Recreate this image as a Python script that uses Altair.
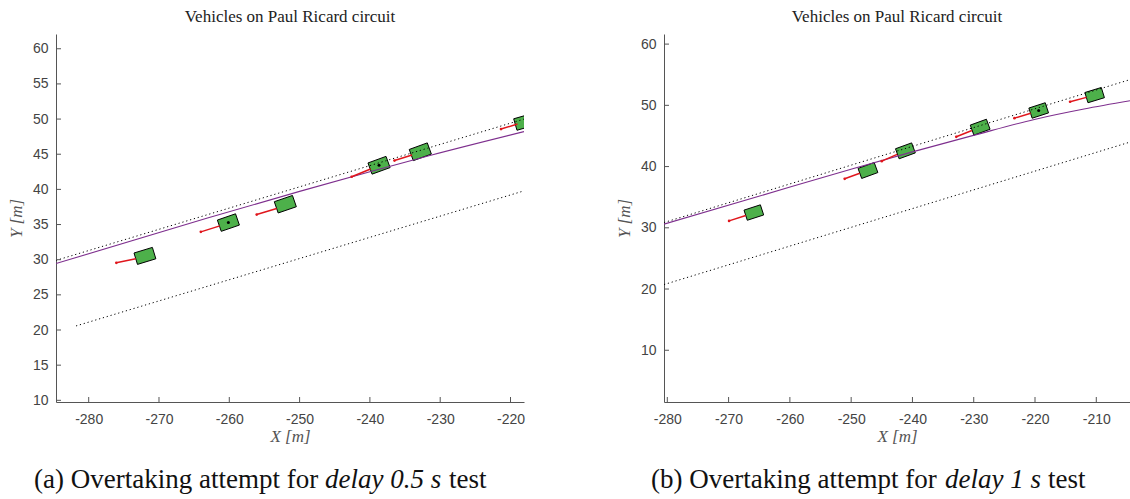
import altair as alt
import pandas as pd

TITLE = "Vehicles on Paul Ricard circuit"

# ---------------- panel (a): delay 0.5 s ----------------
a_xdomain = [-284.65, -218.08]
a_ydomain = [9.76, 62.1]
a_xticks = [-280, -270, -260, -250, -240, -230, -220]
a_yticks = [10, 15, 20, 25, 30, 35, 40, 45, 50, 55, 60]
a_ref_x = [-284.65, -263.1, -250.0, -240.0, -231.2, -218.08]
a_ref_y = [29.45, 35.92, 39.72, 42.52, 44.9, 48.22]
a_upper_x = [-284.65, -218.08]
a_upper_y = [29.9, 50.0]
a_lower_x = [-281.8, -218.08]
a_lower_y = [20.58, 39.79]
a_car_x = [-272.0, -260.13, -252.03, -238.7, -232.83, -218.0]
a_car_y = [30.54, 35.28, 37.89, 43.43, 45.35, 49.6]
a_car_heading = [17, 19, 19, 20, 20, 16]
a_trail_x0 = [-276.07, -264.05, -256.1, -242.6, -236.5, -221.35]
a_trail_y0 = [29.55, 33.96, 36.42, 41.8, 44.1, 48.58]
a_trail_x1 = [-273.3, -261.35, -253.26, -239.9, -234.0, -219.0]
a_trail_y1 = [30.14, 34.81, 37.28, 42.9, 44.9, 49.3]
a_dot_x = [-260.13, -238.7]
a_dot_y = [35.28, 43.43]
a_caption = ["(a) Overtaking attempt for", "delay 0.5 s", "test"]

# ---------------- panel (b): delay 1 s ----------------
b_xdomain = [-280.54, -204.5]
b_ydomain = [1.55, 61.65]
b_xticks = [-280, -270, -260, -250, -240, -230, -220, -210]
b_yticks = [10, 20, 30, 40, 50, 60]
b_ref_x = [-280.54, -265.2, -249.75, -240.0, -229.9, -220.1, -212.0, -204.5]
b_ref_y = [30.6, 35.1, 39.65, 42.4, 45.13, 47.7, 49.4, 50.74]
b_upper_x = [-280.54, -204.5]
b_upper_y = [30.86, 54.2]
b_lower_x = [-280.54, -204.5]
b_lower_y = [20.73, 44.0]
b_car_x = [-265.88, -247.26, -241.15, -228.95, -219.4, -210.27]
b_car_y = [32.49, 39.36, 42.57, 46.43, 49.16, 51.67]
b_car_heading = [18, 20, 20, 20, 18, 17]
b_trail_x0 = [-269.92, -251.06, -245.01, -232.85, -223.36, -214.28]
b_trail_y0 = [31.13, 38.0, 40.88, 44.86, 47.91, 50.58]
b_trail_x1 = [-267.2, -248.6, -242.5, -230.3, -220.7, -211.6]
b_trail_y1 = [32.0, 38.9, 42.0, 45.9, 48.7, 51.3]
b_dot_x = [-219.4]
b_dot_y = [49.16]
b_caption = ["(b) Overtaking attempt for", "delay 1 s", "test"]

CAR_PATH = "M-1,-0.62L1,-0.62L1,0.62L-1,0.62Z"
GREEN = "#4DB04A"
RED = "#E0161C"
PURPLE = "#7E2F8E"
AXIS_GRAY = "#555555"
CAP_SIZE = 27


def panel(xdom, ydom, xticks, yticks, ref_x, ref_y, up_x, up_y, lo_x, lo_y,
          car_x, car_y, car_head, t_x0, t_y0, t_x1, t_y1, dot_x, dot_y,
          caption, cap_x, W, H, car_size):
    xs = alt.Scale(domain=xdom, nice=False, zero=False)
    ys = alt.Scale(domain=ydom, nice=False, zero=False)
    X = alt.X("x:Q", scale=xs, title="X [m]",
              axis=alt.Axis(values=xticks, labelPadding=10, titlePadding=2,
                            labelExpr="'' + datum.value"))
    Y = alt.Y("y:Q", scale=ys, title="Y [m]",
              axis=alt.Axis(values=yticks, labelPadding=8, titlePadding=7,
                            labelExpr="'' + datum.value"))

    ref = pd.DataFrame({"x": ref_x, "y": ref_y, "o": list(range(len(ref_x)))})
    upper = pd.DataFrame({"x": up_x, "y": up_y, "o": [0, 1]})
    lower = pd.DataFrame({"x": lo_x, "y": lo_y, "o": [0, 1]})
    cars = pd.DataFrame({"x": car_x, "y": car_y, "h": car_head})
    cars["rot"] = (360 - cars["h"]) % 360
    trails = pd.DataFrame({"x": t_x0, "y": t_y0, "x2": t_x1, "y2": t_y1})
    dots = pd.DataFrame({"x": dot_x, "y": dot_y})
    xt = pd.DataFrame({"x": xticks})
    yt = pd.DataFrame({"y": yticks})

    car_layer = alt.Chart(cars).mark_point(
        shape=CAR_PATH, filled=True, color=GREEN, stroke="black", strokeWidth=0.9,
        opacity=1, size=car_size, clip=True
    ).encode(x=X, y=Y, angle=alt.Angle("rot:Q", scale=None))

    upper_layer = alt.Chart(upper).mark_line(
        color="black", strokeWidth=1, strokeDash=[1.2, 2.8], clip=True
    ).encode(x=X, y=Y, order="o:Q")
    lower_layer = alt.Chart(lower).mark_line(
        color="black", strokeWidth=1, strokeDash=[1.2, 2.8], clip=True
    ).encode(x=X, y=Y, order="o:Q")
    ref_layer = alt.Chart(ref).mark_line(
        color=PURPLE, strokeWidth=1.1, clip=True, interpolate="monotone"
    ).encode(x=X, y=Y, order="o:Q")
    trail_layer = alt.Chart(trails).mark_rule(color=RED, strokeWidth=1.5, clip=True).encode(
        x=X, y=Y, x2="x2:Q", y2="y2:Q")
    trail_start = alt.Chart(trails).mark_circle(color=RED, size=7, opacity=1, clip=True).encode(
        x=X, y=Y)
    dot_layer = alt.Chart(dots).mark_circle(color="black", size=9, opacity=1).encode(x=X, y=Y)

    xtick_layer = alt.Chart(xt).mark_rule(color=AXIS_GRAY, strokeWidth=1).encode(
        x=X, y=alt.value(H), y2=alt.value(H - 5))
    ytick_layer = alt.Chart(yt).mark_rule(color=AXIS_GRAY, strokeWidth=1).encode(
        y=Y, x=alt.value(0), x2=alt.value(5))

    cap_y = 454
    cap1 = alt.Chart(pd.DataFrame({"t": [caption[0]]})).mark_text(
        font="Liberation Serif", fontSize=CAP_SIZE, align="left", baseline="alphabetic",
        color="#111"
    ).encode(text="t:N", x=alt.value(cap_x[0]), y=alt.value(cap_y))
    cap2 = alt.Chart(pd.DataFrame({"t": [caption[1]]})).mark_text(
        font="Liberation Serif", fontSize=CAP_SIZE, fontStyle="italic", align="left",
        baseline="alphabetic", color="#111"
    ).encode(text="t:N", x=alt.value(cap_x[1]), y=alt.value(cap_y))
    cap3 = alt.Chart(pd.DataFrame({"t": [caption[2]]})).mark_text(
        font="Liberation Serif", fontSize=CAP_SIZE, align="left", baseline="alphabetic",
        color="#111"
    ).encode(text="t:N", x=alt.value(cap_x[2]), y=alt.value(cap_y))

    return alt.layer(
        car_layer, upper_layer, lower_layer, ref_layer, trail_layer, trail_start, dot_layer,
        xtick_layer, ytick_layer, cap1, cap2, cap3
    ).properties(
        width=W, height=H,
        title=alt.TitleParams(TITLE, font="Liberation Serif", fontSize=17, fontWeight="normal",
                              color="#222222", offset=8, anchor="middle"),
    )


left = panel(a_xdomain, a_ydomain, a_xticks, a_yticks, a_ref_x, a_ref_y, a_upper_x, a_upper_y,
             a_lower_x, a_lower_y, a_car_x, a_car_y, a_car_heading, a_trail_x0, a_trail_y0,
             a_trail_x1, a_trail_y1, a_dot_x, a_dot_y, a_caption, [-22, 269, 393], 468, 368, 369)
right = panel(b_xdomain, b_ydomain, b_xticks, b_yticks, b_ref_x, b_ref_y, b_upper_x, b_upper_y,
              b_lower_x, b_lower_y, b_car_x, b_car_y, b_car_heading, b_trail_x0, b_trail_y0,
              b_trail_x1, b_trail_y1, b_dot_x, b_dot_y, b_caption, [-13, 281, 384], 466, 368, 296)

chart = alt.hconcat(left, right, spacing=140, bounds="flush").properties(
    padding={"left": 7, "top": 8, "right": 0, "bottom": 2}
).configure_view(stroke=None).configure_axis(
    grid=False, ticks=False, domainColor=AXIS_GRAY, domainWidth=1,
    labelFont="Liberation Sans", labelFontSize=14, labelColor="#444444",
    titleFont="Liberation Serif", titleFontSize=17, titleFontStyle="italic",
    titleFontWeight="normal", titleColor="#555555"
)

chart.save("out.html", embed_options={"renderer": "svg", "actions": False})
